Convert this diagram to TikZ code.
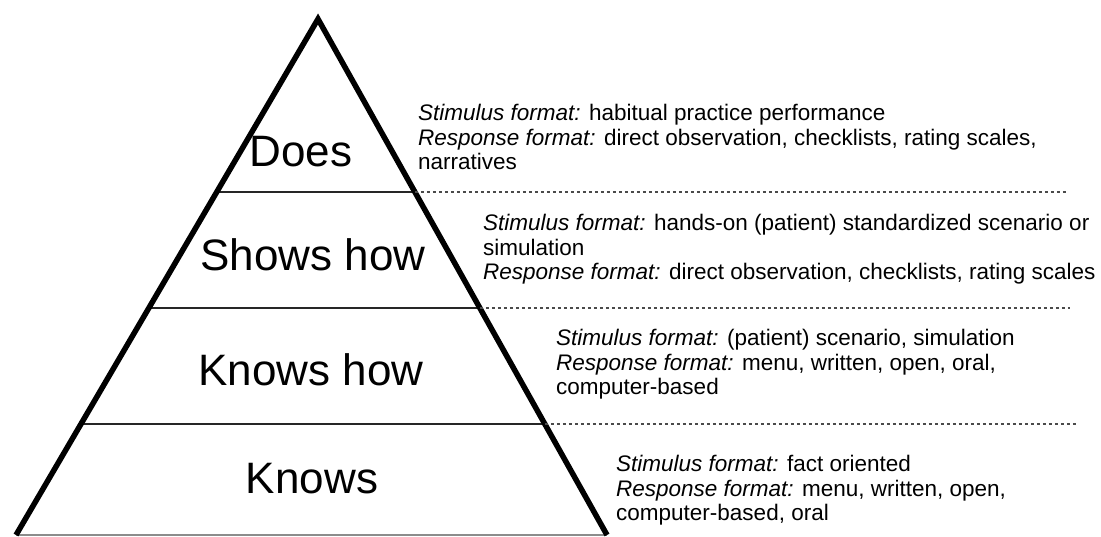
\documentclass[tikz,border=0pt]{standalone}
\usepackage{fontspec}
\setmainfont{Liberation Sans}
\usetikzlibrary{calc}
\definecolor{sepgray}{HTML}{4A4A4A}

\begin{document}
\begin{tikzpicture}[x=1pt, y=-1pt,
      side/.style={line width=5.5pt, line join=miter},
      level/.style={line width=2pt, black!85},
      sep/.style={line width=1.6pt, sepgray, dash pattern=on 3pt off 3pt},
      tier/.style={inner sep=0pt, font=\fontsize{44}{50}\selectfont},
      desc/.style={anchor=north west, align=left, inner sep=0pt,
                   font=\fontsize{22.5}{24.5}\selectfont},
    ]
    \useasboundingbox (0,0) rectangle (1101,536);

    % ── Pyramid corners ──
    \coordinate (apex) at (318,19);
    \coordinate (bl)   at (16,535);
    \coordinate (br)   at (607,535);

    % level ends on both sides
    \coordinate (l1) at ($(apex)!0.3353!(bl)$);
    \coordinate (r1) at ($(apex)!0.3353!(br)$);
    \coordinate (l2) at ($(apex)!0.5601!(bl)$);
    \coordinate (r2) at ($(apex)!0.5601!(br)$);
    \coordinate (l3) at ($(apex)!0.7849!(bl)$);
    \coordinate (r3) at ($(apex)!0.7849!(br)$);

    % ── Levels and base ──
    \draw[level] (l1) -- (r1);
    \draw[level] (l2) -- (r2);
    \draw[level] (l3) -- (r3);
    \draw[line width=1.5pt, black!45] (bl) -- (br);
    \draw[side] (bl) -- (apex) -- (br);

    % ── Dotted separators to the right ──
    \coordinate (d1) at (1066,0);
    \coordinate (d2) at (1070,0);
    \coordinate (d3) at (1078,0);
    \draw[sep] (r1) -- (r1 -| d1);
    \draw[sep] (r2) -- (r2 -| d2);
    \draw[sep] (r3) -- (r3 -| d3);

    % ── Tier labels ──
    \node[tier] (does)     at (301,152) {Does};
    \node[tier] (showshow) at (313,255) {Shows how};
    \node[tier] (knowshow) at (311,370) {Knows how};
    \node[tier] (knows)    at (312,479) {Knows};

    % ── Formats per tier ──
    \node[desc] (desc1) at (418,104)
      {\textit{Stimulus format:} habitual practice performance\\
       \textit{Response format:} direct observation, checklists, rating scales,\\
       narratives};
    \node[desc] (desc2) at (483,214)
      {\textit{Stimulus format:} hands-on (patient) standardized scenario or\\
       simulation\\
       \textit{Response format:} direct observation, checklists, rating scales};
    \node[desc] (desc3) at (556,329)
      {\textit{Stimulus format:} (patient) scenario, simulation\\
       \textit{Response format:} menu, written, open, oral,\\
       computer-based};
    \node[desc] (desc4) at (616,455)
      {\textit{Stimulus format:} fact oriented\\
       \textit{Response format:} menu, written, open,\\
       computer-based, oral};
  \end{tikzpicture}
\end{document}
